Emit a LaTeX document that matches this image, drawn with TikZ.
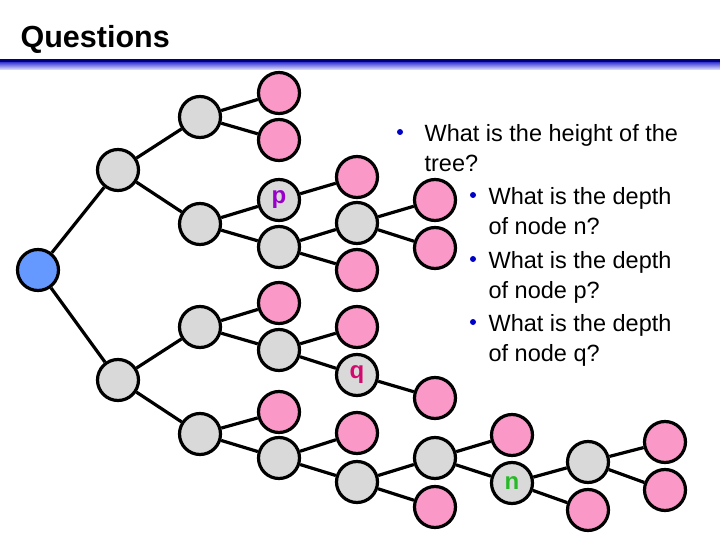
\documentclass[tikz,border=0pt]{standalone}
\usepackage{fontspec}
\setmainfont{Liberation Sans}
\usepackage{tikz}
\definecolor{leafpink}{RGB}{250,152,200}
\definecolor{innergray}{RGB}{217,217,217}
\definecolor{rootblue}{RGB}{102,153,255}
\definecolor{rulenavy}{RGB}{0,0,120}
\definecolor{bulletblue}{RGB}{0,0,200}
\definecolor{ppurple}{RGB}{153,0,204}
\definecolor{qred}{RGB}{210,10,110}
\definecolor{ngreen}{RGB}{40,185,40}

\begin{document}
\begin{tikzpicture}[x=1pt, y=-1pt]
	\tikzstyle{every path}=[line width=3.2pt]
	\tikzstyle{treenode}=[circle,draw,minimum size=41pt,inner sep=0pt,
	  font=\fontsize{24}{24}\selectfont\bfseries]
	\tikzstyle{leaf}=[treenode,fill=leafpink]
	\tikzstyle{inner}=[treenode,fill=innergray]
	\tikzstyle{bul}=[circle,fill=bulletblue,inner sep=0pt,minimum size=6pt,draw=none]
	\tikzstyle{item}=[anchor=north west,inner sep=0pt,align=left,
	  font=\fontsize{23.5}{30}\selectfont]
	\useasboundingbox (0,0) rectangle (720,540);
	% title and rule
	\node [anchor=base west,inner sep=0pt,font=\fontsize{30.5}{30}\selectfont\bfseries] (title) at (19,48) {Questions};
	\fill [rulenavy] (0,59) rectangle (720,63);
	\shade [top color=rulenavy!40!blue!70, bottom color=blue!8, draw=none, line width=0pt] (0,63) rectangle (720,70);
	% tree
	\node [treenode,fill=rootblue] (root) at (38,270) {};
	\node [inner] (a) at (118,170) {};
	\node [inner] (aa) at (200,117) {};
	\node [leaf] (aaa) at (279,93) {};
	\node [leaf] (aab) at (279,140) {};
	\node [inner] (ab) at (200,224) {};
	\node [inner,text=ppurple] (p) at (279,200) {p};
	\node [leaf] (pa) at (357,177) {};
	\node [inner] (abb) at (279,247) {};
	\node [inner] (abba) at (357,223) {};
	\node [leaf] (abbaa) at (435,200) {};
	\node [leaf] (abbab) at (435,248) {};
	\node [leaf] (abbb) at (357,270) {};
	\node [inner] (b) at (118,380) {};
	\node [inner] (ba) at (200,327) {};
	\node [leaf] (baa) at (279,303) {};
	\node [inner] (bab) at (279,350) {};
	\node [leaf] (baba) at (357,327) {};
	\node [inner,text=qred] (q) at (357,375) {q};
	\node [leaf] (qa) at (435,398) {};
	\node [inner] (bb) at (200,434) {};
	\node [leaf] (bba) at (279,412) {};
	\node [inner] (bbb) at (279,458) {};
	\node [leaf] (bbba) at (357,433) {};
	\node [inner] (bbbb) at (357,482) {};
	\node [inner] (bbbba) at (435,458) {};
	\node [leaf] (bbbbb) at (435,507) {};
	\node [leaf] (bbbbaa) at (512,435) {};
	\node [inner,text=ngreen] (n) at (512,483) {n};
	\node [inner] (na) at (588,462) {};
	\node [leaf] (nb) at (588,510) {};
	\node [leaf] (naa) at (665,442) {};
	\node [leaf] (nab) at (665,490) {};
	\draw (root) -- (a) (root) -- (b);
	\draw (a) -- (aa) (a) -- (ab);
	\draw (aa) -- (aaa) (aa) -- (aab);
	\draw (ab) -- (p) (ab) -- (abb);
	\draw (p) -- (pa);
	\draw (abb) -- (abba) (abb) -- (abbb);
	\draw (abba) -- (abbaa) (abba) -- (abbab);
	\draw (b) -- (ba) (b) -- (bb);
	\draw (ba) -- (baa) (ba) -- (bab);
	\draw (bab) -- (baba) (bab) -- (q);
	\draw (q) -- (qa);
	\draw (bb) -- (bba) (bb) -- (bbb);
	\draw (bbb) -- (bbba) (bbb) -- (bbbb);
	\draw (bbbb) -- (bbbba) (bbbb) -- (bbbbb);
	\draw (bbbba) -- (bbbbaa) (bbbba) -- (n);
	\draw (n) -- (na) (n) -- (nb);
	\draw (na) -- (naa) (na) -- (nab);
	% questions
	\node [bul] (bul1) at (400,132) {};
	\node [item] (q1) at (423,123) {What is the height of the\\tree?};
	\node [bul] (bul2) at (473,195) {};
	\node [item] (q2) at (487,186) {What is the depth\\of node n?};
	\node [bul] (bul3) at (473,259) {};
	\node [item] (q3) at (487,250) {What is the depth\\of node p?};
	\node [bul] (bul4) at (473,322) {};
	\node [item] (q4) at (487,313) {What is the depth\\of node q?};
\end{tikzpicture}
\end{document}
